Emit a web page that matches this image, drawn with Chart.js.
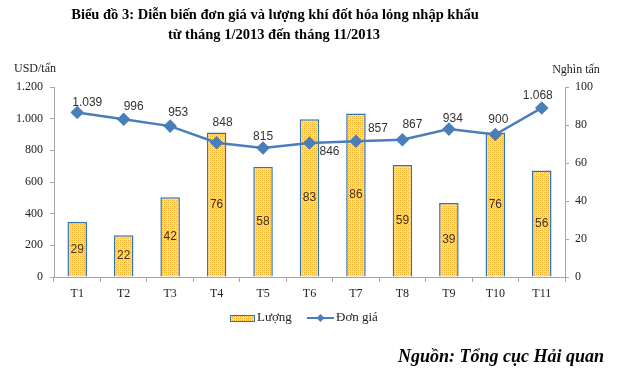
<!DOCTYPE html>
<html lang="vi">
<head>
<meta charset="UTF-8">
<title>Biểu đồ 3</title>
<script src="https://cdn.jsdelivr.net/npm/chart.js"></script>
<style>
  html, body { margin: 0; padding: 0; background: #fff; }
  #wrap { width: 624px; height: 380px; }
</style>
</head>
<body>
<div id="wrap"><canvas id="c" width="624" height="380"></canvas></div>
<script>
// data
const months = ["T1", "T2", "T3", "T4", "T5", "T6", "T7", "T8", "T9", "T10", "T11"];
const volume = [29, 22, 42, 76, 58, 83, 86, 59, 39, 76, 56];          // Nghìn tấn
const unitPrice = [1039, 996, 953, 848, 815, 846, 857, 867, 934, 900, 1068]; // USD/tấn
const priceTicks = [0, 200, 400, 600, 800, 1000, 1200];
const volumeTicks = [0, 20, 40, 60, 80, 100];

// where the price labels sit relative to their points (px)
const priceLabelShift = [[10,-10],[10,-13],[8,-13],[6,-20],[0,-11],[20,9],[22,-13],[10,-15],[4,-10],[3,-15],[-4,-12]];

const BLUE = "#4A7EBB";
const SERIF = "'Liberation Serif', 'Times New Roman', serif";
const SANS = "'Liberation Sans', Arial, sans-serif";

function fmt(v) {
    return String(v).replace(/\B(?=(\d{3})+(?!\d))/g, ".");
}

// yellow / orange dotted fill like the excel pattern
function makePattern() {
    const p = document.createElement("canvas");
    p.width = 4; p.height = 4;
    const g = p.getContext("2d");
    g.fillStyle = "#FFE57A";
    g.fillRect(0, 0, 4, 4);
    g.fillStyle = "#F0B030";
    g.fillRect(0, 0, 1, 1); g.fillRect(2, 2, 1, 1);
    g.fillRect(2, 0, 1, 1); g.fillRect(0, 2, 1, 1);
    g.fillStyle = "#FFD24D";
    g.fillRect(1, 1, 1, 1); g.fillRect(3, 3, 1, 1);
    return document.getElementById("c").getContext("2d").createPattern(p, "repeat");
}
const barFill = makePattern();

const extras = {
    id: "extras",
    afterDatasetsDraw(chart) {
        const ctx = chart.ctx;
        ctx.save();
        // bar values in the middle of each bar
        ctx.font = "12px " + SANS;
        ctx.fillStyle = "#333";
        ctx.textAlign = "center";
        ctx.textBaseline = "middle";
        const barMeta = chart.getDatasetMeta(1);
        barMeta.data.forEach((el, i) => {
            ctx.fillText(volume[i], el.x, (el.y + el.base) / 2);
        });
        // price labels
        const lineMeta = chart.getDatasetMeta(0);
        lineMeta.data.forEach((el, i) => {
            const s = priceLabelShift[i];
            ctx.fillText(fmt(unitPrice[i]), el.x + s[0], el.y + s[1]);
        });
        ctx.restore();
    },
    afterDraw(chart) {
        const ctx = chart.ctx;
        ctx.save();
        ctx.fillStyle = "#000";
        ctx.textBaseline = "middle";
        ctx.textAlign = "center";
        ctx.font = "bold 14.5px " + SERIF;
        ctx.fillText("Biểu đồ 3: Diễn biến đơn giá và lượng khí đốt hóa lỏng nhập khẩu", 275, 15);
        ctx.fillText("từ tháng 1/2013 đến tháng 11/2013", 274, 35);

        ctx.font = "12px " + SERIF;
        ctx.fillStyle = "#222";
        ctx.fillText("USD/tấn", 35, 69);
        ctx.fillText("Nghìn tấn", 576, 70);

        // legend
        const ly = 318;
        ctx.fillStyle = barFill;
        ctx.fillRect(230, ly - 3, 25, 6);
        ctx.strokeStyle = "#2E75B6";
        ctx.lineWidth = 1;
        ctx.strokeRect(230.5, ly - 2.5, 24, 6);
        ctx.fillStyle = "#222";
        ctx.textAlign = "left";
        ctx.font = "13px " + SERIF;
        ctx.fillText("Lượng", 257, ly);

        ctx.strokeStyle = BLUE;
        ctx.lineWidth = 2;
        ctx.beginPath();
        ctx.moveTo(307, ly); ctx.lineTo(334, ly);
        ctx.stroke();
        ctx.fillStyle = BLUE;
        ctx.beginPath();
        ctx.moveTo(320.5, ly - 4); ctx.lineTo(324.5, ly); ctx.lineTo(320.5, ly + 4); ctx.lineTo(316.5, ly);
        ctx.closePath(); ctx.fill();
        ctx.fillStyle = "#222";
        ctx.fillText("Đơn giá", 336, ly);

        ctx.font = "bold italic 18px " + SERIF;
        ctx.fillStyle = "#000";
        ctx.textAlign = "right";
        ctx.fillText("Nguồn: Tổng cục Hải quan", 604, 357);
        ctx.restore();
    }
};

const axisGrid = { display: true, drawOnChartArea: false, tickLength: 4, color: "#A6A6A6" };
const axisBorder = { display: true, color: "#A6A6A6", width: 1 };
const tickFont = { family: SERIF, size: 12 };

new Chart(document.getElementById("c"), {
    type: "bar",
    data: {
        labels: months,
        datasets: [
            {
                type: "line",
                label: "Đơn giá",
                data: unitPrice,
                yAxisID: "y",
                borderColor: BLUE,
                backgroundColor: BLUE,
                borderWidth: 2.5,
                pointStyle: "rectRot",
                pointRadius: 5,
                pointBackgroundColor: BLUE,
                pointBorderColor: BLUE,
                tension: 0,
                order: 0
            },
            {
                type: "bar",
                label: "Lượng",
                data: volume,
                yAxisID: "y1",
                backgroundColor: barFill,
                borderColor: "#2E75B6",
                borderWidth: 1.5,
                barPercentage: 0.42,
                categoryPercentage: 1,
                order: 1
            }
        ]
    },
    options: {
        responsive: false,
        animation: false,
        layout: { padding: { left: 0, right: 0, top: 87, bottom: 79 } },
        plugins: {
            legend: { display: false },
            title: { display: false },
            tooltip: { enabled: false }
        },
        scales: {
            x: {
                grid: { display: true, drawOnChartArea: false, tickLength: 5, color: "#A6A6A6", offset: true },
                border: axisBorder,
                ticks: { font: tickFont, color: "#222", padding: 5, maxRotation: 0 },
                afterFit(s) { s.height = 24; }
            },
            y: {
                position: "left",
                min: 0,
                max: 1200,
                afterBuildTicks(s) { s.ticks = priceTicks.map(v => ({ value: v })); },
                grid: axisGrid,
                border: axisBorder,
                ticks: { font: tickFont, color: "#222", padding: 7, callback: v => fmt(v) },
                afterFit(s) { s.width = 54; }
            },
            y1: {
                position: "right",
                min: 0,
                max: 100,
                afterBuildTicks(s) { s.ticks = volumeTicks.map(v => ({ value: v })); },
                grid: axisGrid,
                border: axisBorder,
                ticks: { font: tickFont, color: "#222", padding: 6 },
                afterFit(s) { s.width = 59; }
            }
        }
    },
    plugins: [extras]
});
</script>
</body>
</html>
